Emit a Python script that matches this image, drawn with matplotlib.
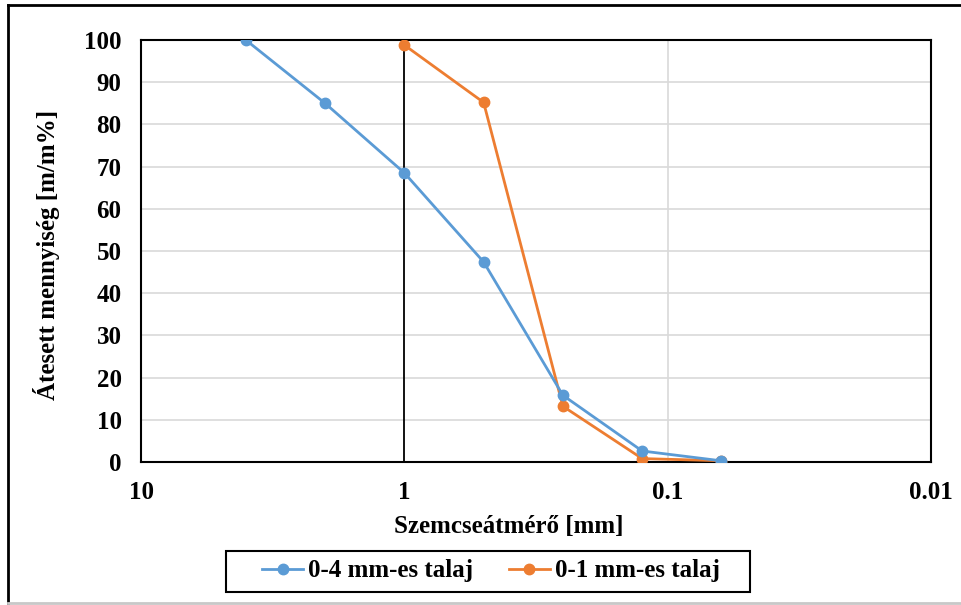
import matplotlib.pyplot as plt
from matplotlib.lines import Line2D
from matplotlib.patches import Rectangle

plt.rcParams['font.family'] = ['Liberation Serif', 'DejaVu Serif']
plt.rcParams['font.weight'] = 'bold'

# szitaméretek [mm]
meret_04 = [4, 2, 1, 0.5, 0.25, 0.125, 0.063]
atesett_04 = [100, 85, 68.5, 47.4, 15.8, 2.6, 0.3]
meret_01 = [1, 0.5, 0.25, 0.125, 0.063]
atesett_01 = [98.8, 85.2, 13.2, 0.8, 0.3]

xticks = [10, 1, 0.1, 0.01]
xticklabels = ['10', '1', '0.1', '0.01']
yticks = list(range(0, 101, 10))

blue = '#5B9BD5'
orange = '#ED7D31'

W, H = 962, 605
fig = plt.figure(figsize=(W / 100, H / 100), dpi=100)
ax = fig.add_axes([0.1466, 0.2364, 0.8212, 0.6975])

ax.set_xscale('log')
ax.set_xlim(10, 0.01)
ax.set_ylim(0, 100)

for v in yticks[1:-1]:
    ax.axhline(v, color='#D9D9D9', lw=1.2, zorder=1)
ax.axvline(0.1, color='#D9D9D9', lw=1.2, zorder=1)
ax.axvline(1, color='black', lw=1.3, zorder=2)

ax.plot(meret_04, atesett_04, color=blue, lw=2, marker='o', ms=7.5,
        label='0-4 mm-es talaj', zorder=4)
ax.plot(meret_01, atesett_01, color=orange, lw=2, marker='o', ms=7.5,
        label='0-1 mm-es talaj', zorder=3)

ax.set_xticks(xticks)
ax.set_xticklabels(xticklabels)
ax.minorticks_off()
ax.set_yticks(yticks)
ax.tick_params(length=0, labelsize=18, pad=14)
for s in ax.spines.values():
    s.set_color('black')
    s.set_linewidth(1.5)

ax.set_xlabel('Szemcseátmérő [mm]', fontsize=18, fontweight='bold')
ax.set_ylabel('Átesett mennyiség [m/m%]', fontsize=18, fontweight='bold')
ax.xaxis.set_label_coords(0.466, -0.154)
ax.yaxis.set_label_coords(-0.12, 0.49)
ax.xaxis.label.set_va('center')
ax.yaxis.label.set_va('center')

# jelmagyarázat, külön rajzolt kerettel
fig.legend(loc='center', bbox_to_anchor=(491 / W, 1 - 571 / H), ncol=2, fontsize=18,
           frameon=False, handlelength=1.64, handletextpad=0.2, columnspacing=1.4,
           borderpad=0, borderaxespad=0)
fig.add_artist(Rectangle((226 / W, 1 - 592 / H), (750 - 226) / W, (592 - 551) / H,
                         transform=fig.transFigure, fill=False, edgecolor='black', lw=1.5))

# külső keret
fig.add_artist(Line2D([8 / W, 1], [1 - 5 / H, 1 - 5 / H], color='black', lw=2, transform=fig.transFigure))
fig.add_artist(Line2D([8 / W, 8 / W], [1 - 5 / H, 2 / H], color='black', lw=2, transform=fig.transFigure))
fig.add_artist(Line2D([8 / W, 1], [2 / H, 2 / H], color='#C8C8C8', lw=2, transform=fig.transFigure))

fig.savefig('out.png', dpi=100)
